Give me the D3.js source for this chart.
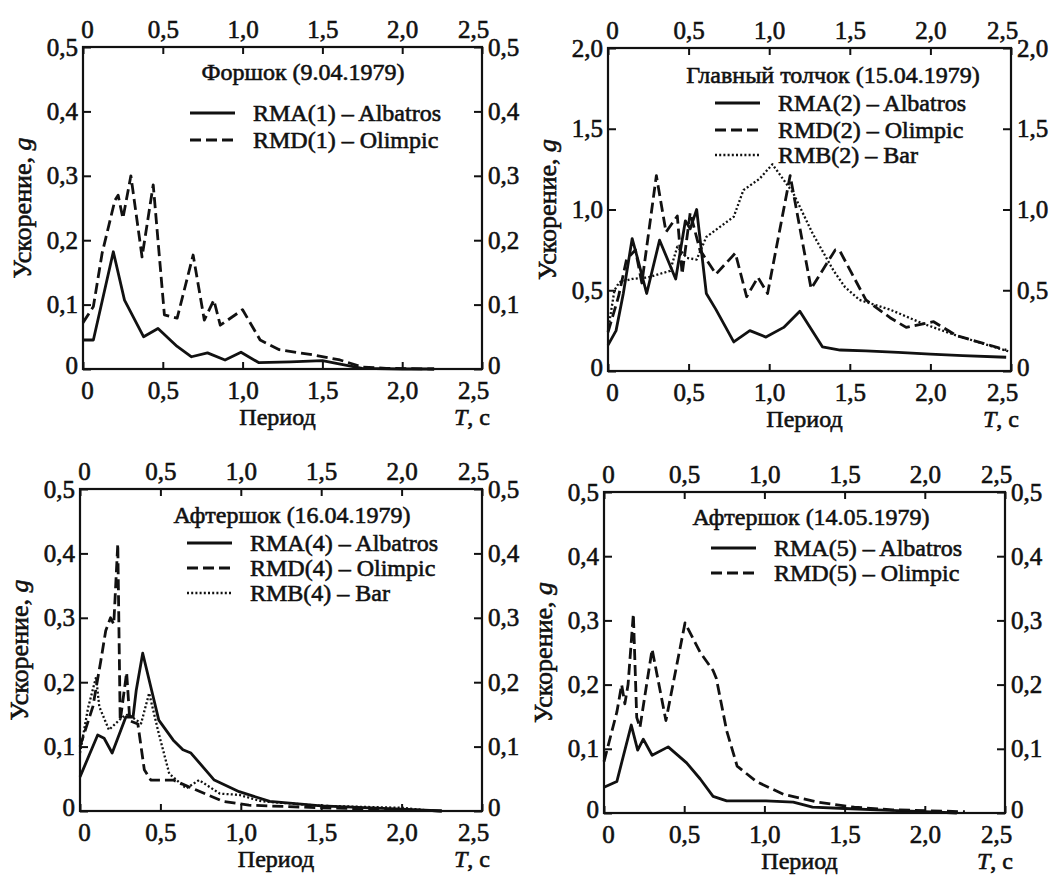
<!DOCTYPE html>
<html lang="ru">
<head>
<meta charset="UTF-8" />
<script src="https://d3js.org/d3.v7.min.js"></script>
<title>Спектры ускорений</title>
<style>
  body { margin: 0; background: #fff; }
</style>
</head>
<body>
<script>
// ---- data: [period T (s), acceleration (g)] ----
var rma1 = [[0,0.045],[0.065,0.045],[0.19,0.182],[0.26,0.107],[0.38,0.05],[0.47,0.063],[0.59,0.035],[0.68,0.019],[0.78,0.025],[0.89,0.014],[0.99,0.026],[1.1,0.01],[1.3,0.011],[1.5,0.013],[1.62,0.007],[1.75,0.001],[2.0,0],[2.2,0]];
var rmd1 = [[0,0.072],[0.065,0.097],[0.12,0.18],[0.2,0.262],[0.22,0.27],[0.25,0.234],[0.3,0.3],[0.37,0.174],[0.44,0.286],[0.51,0.084],[0.59,0.079],[0.69,0.177],[0.76,0.076],[0.82,0.107],[0.86,0.068],[1.0,0.092],[1.11,0.045],[1.23,0.03],[1.44,0.022],[1.61,0.014],[1.75,0.003],[1.9,0.001],[2.2,0]];

var rma2 = [[0,0.16],[0.05,0.25],[0.095,0.48],[0.15,0.82],[0.18,0.71],[0.24,0.48],[0.32,0.81],[0.42,0.57],[0.48,0.93],[0.51,0.88],[0.55,1.0],[0.61,0.48],[0.67,0.38],[0.78,0.18],[0.88,0.25],[0.98,0.21],[1.09,0.27],[1.19,0.37],[1.33,0.15],[1.44,0.13],[1.6,0.125],[1.8,0.115],[2.0,0.105],[2.2,0.095],[2.47,0.085]];
var rmd2 = [[0,0.24],[0.065,0.46],[0.115,0.69],[0.17,0.75],[0.21,0.545],[0.3,1.21],[0.36,0.86],[0.43,0.96],[0.46,0.6],[0.51,0.98],[0.57,0.75],[0.67,0.6],[0.79,0.73],[0.86,0.46],[0.93,0.58],[0.99,0.48],[1.13,1.21],[1.26,0.51],[1.41,0.75],[1.44,0.74],[1.6,0.44],[1.75,0.33],[1.85,0.27],[2.02,0.305],[2.16,0.22],[2.47,0.13]];
var rmb2 = [[0,0.25],[0.04,0.5],[0.07,0.55],[0.15,0.57],[0.25,0.58],[0.385,0.62],[0.43,0.77],[0.49,0.7],[0.55,0.69],[0.61,0.83],[0.78,0.955],[0.84,1.12],[0.94,1.19],[1.02,1.28],[1.15,1.1],[1.27,0.85],[1.4,0.62],[1.47,0.52],[1.56,0.44],[1.75,0.38],[1.95,0.295],[2.16,0.22],[2.49,0.12]];

var rma4 = [[0,0.053],[0.11,0.118],[0.15,0.113],[0.2,0.09],[0.285,0.146],[0.33,0.146],[0.35,0.188],[0.39,0.245],[0.49,0.141],[0.58,0.11],[0.64,0.095],[0.69,0.09],[0.835,0.048],[0.99,0.03],[1.18,0.015],[1.5,0.008],[2.0,0.003],[2.25,0]];
var rmd4 = [[0,0.1],[0.08,0.162],[0.13,0.234],[0.16,0.28],[0.19,0.3],[0.21,0.29],[0.235,0.415],[0.25,0.14],[0.29,0.215],[0.31,0.14],[0.36,0.135],[0.4,0.064],[0.44,0.048],[0.58,0.048],[0.72,0.033],[0.89,0.015],[1.05,0.009],[1.5,0.005],[2.0,0.002],[2.25,0]];
var rmb4 = [[0,0.09],[0.05,0.16],[0.1,0.208],[0.12,0.162],[0.18,0.126],[0.265,0.146],[0.3,0.15],[0.38,0.136],[0.43,0.183],[0.49,0.12],[0.555,0.058],[0.66,0.035],[0.74,0.048],[0.87,0.027],[0.99,0.025],[1.13,0.015],[1.5,0.008],[2.0,0.005],[2.2,0]];

var rma5 = [[0,0.04],[0.08,0.049],[0.17,0.137],[0.21,0.098],[0.245,0.115],[0.3,0.09],[0.4,0.103],[0.515,0.078],[0.6,0.053],[0.68,0.026],[0.765,0.019],[1.01,0.019],[1.18,0.017],[1.3,0.009],[1.5,0.007],[1.7,0.005],[2.0,0.002],[2.2,0]];
var rmd5 = [[0,0.08],[0.08,0.157],[0.11,0.2],[0.13,0.17],[0.15,0.2],[0.183,0.31],[0.204,0.149],[0.224,0.133],[0.3,0.255],[0.386,0.144],[0.505,0.296],[0.6,0.25],[0.68,0.222],[0.7,0.21],[0.765,0.128],[0.83,0.073],[0.95,0.049],[1.12,0.029],[1.33,0.017],[1.56,0.009],[1.8,0.005],[2.25,0.002]];

// ---- ticks ----
var xTicks = [0, 0.5, 1.0, 1.5, 2.0, 2.5];
var xTickLabels = ["0", "0,5", "1,0", "1,5", "2,0", "2,5"];
var yTicksSmall = [0, 0.1, 0.2, 0.3, 0.4, 0.5];
var yLabelsSmall = ["0", "0,1", "0,2", "0,3", "0,4", "0,5"];
var yTicksBig = [0, 0.5, 1.0, 1.5, 2.0];
var yLabelsBig = ["0", "0,5", "1,0", "1,5", "2,0"];

var titles = ["Форшок (9.04.1979)", "Главный толчок (15.04.1979)", "Афтершок (16.04.1979)", "Афтершок (14.05.1979)"];

var width = 1059, height = 875;
var FONT = "Liberation Serif";
var svg = d3.select("body").append("svg").attr("width", width).attr("height", height)
  .attr("font-family", FONT);

var styles = {
  solid:  { w: 2.8, dash: null },
  dashed: { w: 2.8, dash: "11,5" },
  dotted: { w: 2.3, dash: "2,2.2" }
};

var panels = [
  { x: 83, y: 47, w: 399, h: 322, yMax: 0.5, yt: yTicksSmall, yl: yLabelsSmall, title: titles[0], tx: 220, ty: 25, ly: [66, 93],
    series: [ { d: rma1, s: "solid", name: "RMA(1) – Albatros" }, { d: rmd1, s: "dashed", name: "RMD(1) – Olimpic" } ] },
  { x: 608, y: 48, w: 403, h: 323, yMax: 2.0, yt: yTicksBig, yl: yLabelsBig, title: titles[1], tx: 225, ty: 27, ly: [55, 82, 107],
    series: [ { d: rma2, s: "solid", name: "RMA(2) – Albatros" }, { d: rmd2, s: "dashed", name: "RMD(2) – Olimpic" }, { d: rmb2, s: "dotted", name: "RMB(2) – Bar" } ] },
  { x: 80, y: 489, w: 402, h: 322, yMax: 0.5, yt: yTicksSmall, yl: yLabelsSmall, title: titles[2], tx: 212, ty: 26, ly: [54, 79, 104],
    series: [ { d: rma4, s: "solid", name: "RMA(4) – Albatros" }, { d: rmd4, s: "dashed", name: "RMD(4) – Olimpic" }, { d: rmb4, s: "dotted", name: "RMB(4) – Bar" } ] },
  { x: 604, y: 492, w: 401, h: 321, yMax: 0.5, yt: yTicksSmall, yl: yLabelsSmall, title: titles[3], tx: 207, ty: 25, ly: [56, 81],
    series: [ { d: rma5, s: "solid", name: "RMA(5) – Albatros" }, { d: rmd5, s: "dashed", name: "RMD(5) – Olimpic" } ] }
];

function ink(sel, size) {
  return sel.attr("font-family", FONT).attr("font-size", size)
    .attr("fill", "#111").attr("stroke", "#111").attr("stroke-width", 0.6);
}

function styleAxis(g) {
  g.select(".domain").remove();
  g.selectAll(".tick line").attr("stroke", "#111").attr("stroke-width", 2);
  ink(g.selectAll(".tick text"), 25);
  g.attr("font-family", FONT).attr("font-size", null);
}

panels.forEach(function(p) {
  var g = svg.append("g").attr("transform", "translate(" + p.x + "," + p.y + ")");
  var x = d3.scaleLinear().domain([0, 2.5]).range([0, p.w]);
  var y = d3.scaleLinear().domain([0, p.yMax]).range([p.h, 0]);

  // curves
  var line = d3.line().x(function(d) { return x(d[0]); }).y(function(d) { return y(d[1]); });
  p.series.forEach(function(s) {
    g.append("path").datum(s.d).attr("d", line)
      .attr("fill", "none").attr("stroke", "#111")
      .attr("stroke-width", styles[s.s].w)
      .attr("stroke-dasharray", styles[s.s].dash)
      .attr("stroke-linejoin", "round");
  });

  // axes with inward ticks
  var nx = xTicks.length - 1;
  var xb = g.append("g").attr("transform", "translate(0," + p.h + ")")
    .call(d3.axisBottom(x).tickValues(xTicks).tickFormat(function(d, i) { return xTickLabels[i]; }).tickSize(-7).tickPadding(12));
  var xt = g.append("g")
    .call(d3.axisTop(x).tickValues(xTicks).tickFormat(function(d, i) { return xTickLabels[i]; }).tickSize(-7).tickPadding(9));
  var yl = g.append("g")
    .call(d3.axisLeft(y).tickValues(p.yt).tickFormat(function(d, i) { return p.yl[i]; }).tickSize(-8).tickPadding(5));
  var yr = g.append("g").attr("transform", "translate(" + p.w + ",0)")
    .call(d3.axisRight(y).tickValues(p.yt).tickFormat(function(d, i) { return p.yl[i]; }).tickSize(-8).tickPadding(6));
  [xb, xt, yl, yr].forEach(styleAxis);
  [xb, xt].forEach(function(a) {
    a.selectAll(".tick text").attr("dx", function(d, i) { return i === 0 ? 4 : (i === nx ? -9 : 0); });
  });
  [yl, yr].forEach(function(a) {
    a.selectAll(".tick text").attr("y", function(d, i) { return i === 0 ? -4 : 0; });
  });

  // frame
  g.append("rect").attr("width", p.w).attr("height", p.h)
    .attr("fill", "none").attr("stroke", "#111").attr("stroke-width", 2.2);

  // title and legend
  ink(g.append("text"), 24).attr("x", p.tx).attr("y", p.ty).attr("dy", "0.35em")
    .attr("text-anchor", "middle").text(p.title);
  p.series.forEach(function(s, i) {
    var ly = p.ly[i];
    g.append("line").attr("x1", 107).attr("x2", 152).attr("y1", ly).attr("y2", ly)
      .attr("stroke", "#111").attr("stroke-width", styles[s.s].w)
      .attr("stroke-dasharray", styles[s.s].dash);
    ink(g.append("text"), 24).attr("x", 170).attr("y", ly).attr("dy", "0.35em").text(s.name);
  });

  // axis titles
  ink(g.append("text"), 24).attr("x", p.w / 2 - 5).attr("y", p.h + 56)
    .attr("text-anchor", "middle").text("Период");
  var tc = ink(g.append("text"), 24).attr("x", p.w + 8).attr("y", p.h + 56)
    .attr("text-anchor", "end");
  tc.append("tspan").attr("font-style", "italic").text("T");
  tc.append("tspan").text(", c");

  var yt = ink(g.append("text"), 26).attr("transform", "translate(-52," + (p.h / 2) + ") rotate(-90)")
    .attr("text-anchor", "middle");
  yt.append("tspan").text("Ускорение, ");
  yt.append("tspan").attr("font-style", "italic").text("g");
});
</script>
</body>
</html>
